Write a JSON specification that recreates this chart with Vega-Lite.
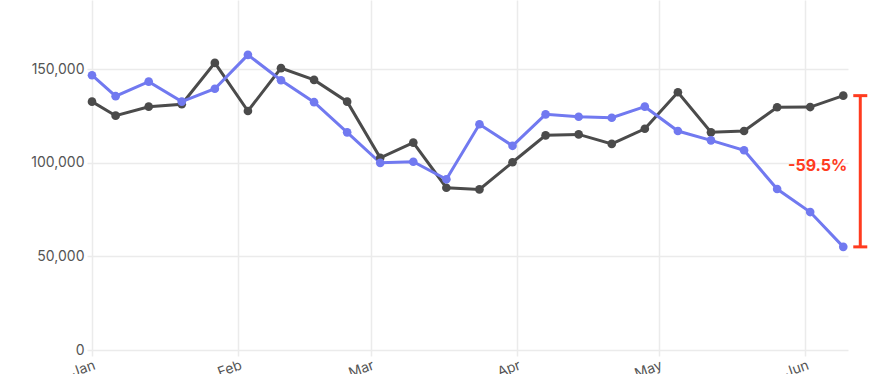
{
  "$schema": "https://vega.github.io/schema/vega-lite/v6.json",
  "autosize": {"type": "none"},
  "padding": {"left": 92, "top": 0, "right": 24, "bottom": 24},
  "width": 756,
  "height": 350,
  "background": "white",
  "config": {
    "view": {"stroke": null},
    "font": "Inter",
    "axis": {"labelFont": "Inter", "labelColor": "#555555", "labelFontSize": 14, "gridColor": "#ebebeb", "gridWidth": 1.5, "tickColor": "#ebebeb", "tickWidth": 1.5, "domain": false, "title": null}
  },
  "datasets": {
    "series": [
      {"date": "2025-01-01", "series": "A", "value": 132700},
      {"date": "2025-01-06", "series": "A", "value": 125200},
      {"date": "2025-01-13", "series": "A", "value": 130000},
      {"date": "2025-01-20", "series": "A", "value": 131300},
      {"date": "2025-01-27", "series": "A", "value": 153400},
      {"date": "2025-02-03", "series": "A", "value": 127700},
      {"date": "2025-02-10", "series": "A", "value": 150600},
      {"date": "2025-02-17", "series": "A", "value": 144300},
      {"date": "2025-02-24", "series": "A", "value": 132700},
      {"date": "2025-03-03", "series": "A", "value": 102700},
      {"date": "2025-03-10", "series": "A", "value": 110800},
      {"date": "2025-03-17", "series": "A", "value": 86700},
      {"date": "2025-03-24", "series": "A", "value": 85800},
      {"date": "2025-03-31", "series": "A", "value": 100300},
      {"date": "2025-04-07", "series": "A", "value": 114700},
      {"date": "2025-04-14", "series": "A", "value": 115200},
      {"date": "2025-04-21", "series": "A", "value": 110100},
      {"date": "2025-04-28", "series": "A", "value": 118200},
      {"date": "2025-05-05", "series": "A", "value": 137700},
      {"date": "2025-05-12", "series": "A", "value": 116300},
      {"date": "2025-05-19", "series": "A", "value": 117000},
      {"date": "2025-05-26", "series": "A", "value": 129700},
      {"date": "2025-06-02", "series": "A", "value": 129800},
      {"date": "2025-06-09", "series": "A", "value": 135900},
      {"date": "2025-01-01", "series": "B", "value": 146800},
      {"date": "2025-01-06", "series": "B", "value": 135600},
      {"date": "2025-01-13", "series": "B", "value": 143400},
      {"date": "2025-01-20", "series": "B", "value": 132700},
      {"date": "2025-01-27", "series": "B", "value": 139600},
      {"date": "2025-02-03", "series": "B", "value": 157700},
      {"date": "2025-02-10", "series": "B", "value": 144100},
      {"date": "2025-02-17", "series": "B", "value": 132400},
      {"date": "2025-02-24", "series": "B", "value": 116300},
      {"date": "2025-03-03", "series": "B", "value": 100000},
      {"date": "2025-03-10", "series": "B", "value": 100600},
      {"date": "2025-03-17", "series": "B", "value": 91200},
      {"date": "2025-03-24", "series": "B", "value": 120600},
      {"date": "2025-03-31", "series": "B", "value": 109100},
      {"date": "2025-04-07", "series": "B", "value": 125900},
      {"date": "2025-04-14", "series": "B", "value": 124600},
      {"date": "2025-04-21", "series": "B", "value": 124100},
      {"date": "2025-04-28", "series": "B", "value": 130000},
      {"date": "2025-05-05", "series": "B", "value": 117000},
      {"date": "2025-05-12", "series": "B", "value": 112000},
      {"date": "2025-05-19", "series": "B", "value": 106700},
      {"date": "2025-05-26", "series": "B", "value": 86000},
      {"date": "2025-06-02", "series": "B", "value": 73700},
      {"date": "2025-06-09", "series": "B", "value": 55100}
    ],
    "annotation": [
      {"date": "2025-06-09", "top": 135900, "bottom": 55100, "mid": 98500, "label": "-59.5%"}
    ]
  },
  "layer": [
    {
      "data": {"name": "series"},
      "mark": {"type": "line", "strokeWidth": 3, "point": {"filled": true, "size": 75, "opacity": 1}},
      "encoding": {
        "x": {
          "field": "date", "type": "temporal",
          "scale": {"domain": ["2025-01-01T00:00:00", "2025-06-10T00:00:00"], "nice": false},
          "axis": {"format": "%b", "tickCount": {"interval": "month", "step": 1}, "labelAngle": -20, "tickSize": 6, "labelPadding": 2, "grid": true}
        },
        "y": {
          "field": "value", "type": "quantitative",
          "scale": {"domain": [0, 187000], "nice": false},
          "axis": {"values": [0, 50000, 100000, 150000], "format": ",d", "tickSize": 5, "labelPadding": 3, "grid": true}
        },
        "color": {
          "field": "series", "type": "nominal",
          "scale": {"domain": ["A", "B"], "range": ["#4b4b4b", "#7179f0"]},
          "legend": null
        },
        "order": {"field": "series"}
      }
    },
    {
      "data": {"name": "annotation"},
      "mark": {"type": "rule", "color": "#ff3b1f", "strokeWidth": 3, "xOffset": 17},
      "encoding": {
        "x": {"field": "date", "type": "temporal"},
        "y": {"field": "top", "type": "quantitative"},
        "y2": {"field": "bottom"}
      }
    },
    {
      "data": {"name": "annotation"},
      "mark": {"type": "tick", "orient": "horizontal", "color": "#ff3b1f", "thickness": 3, "size": 14, "xOffset": 17, "opacity": 1},
      "encoding": {
        "x": {"field": "date", "type": "temporal"},
        "y": {"field": "top", "type": "quantitative"}
      }
    },
    {
      "data": {"name": "annotation"},
      "mark": {"type": "tick", "orient": "horizontal", "color": "#ff3b1f", "thickness": 3, "size": 14, "xOffset": 17, "opacity": 1},
      "encoding": {
        "x": {"field": "date", "type": "temporal"},
        "y": {"field": "bottom", "type": "quantitative"}
      }
    },
    {
      "data": {"name": "annotation"},
      "mark": {"type": "text", "color": "#ff3b1f", "fontSize": 16, "fontWeight": "bold", "align": "right", "baseline": "middle", "dx": 4},
      "encoding": {
        "x": {"field": "date", "type": "temporal"},
        "y": {"field": "mid", "type": "quantitative"},
        "text": {"field": "label"}
      }
    }
  ]
}
